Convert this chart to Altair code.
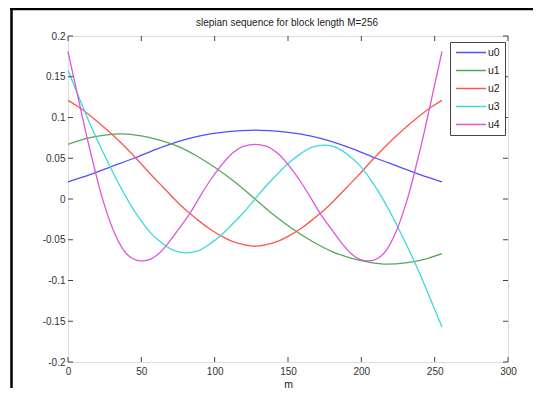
import altair as alt
import pandas as pd

# ---- data ----
title_text = "slepian sequence for block length M=256"

m_u0 = [0, 15, 30, 45, 60, 75, 90, 105, 118, 127.5, 137, 150, 165, 180, 195, 210, 225, 240, 255]
u0 = [0.021, 0.030, 0.040, 0.050, 0.061, 0.0705, 0.0775, 0.0818, 0.0838, 0.0845, 0.0838, 0.0818,
      0.0775, 0.0705, 0.061, 0.050, 0.040, 0.030, 0.021]

m_u1 = [0, 12, 25, 37, 50, 62, 75, 88, 100, 114, 127.5, 141, 155, 167, 180, 193, 205, 218, 230, 243, 255]
u1 = [0.067, 0.074, 0.0785, 0.080, 0.0775, 0.0725, 0.0645, 0.0525, 0.039, 0.0205, 0.0, -0.0205, -0.039,
      -0.0525, -0.0645, -0.0725, -0.0775, -0.080, -0.0785, -0.074, -0.067]

m_u2 = [0, 8, 16, 24, 32, 40, 48, 56, 64, 72, 80, 88, 96, 104, 112, 120, 127.5,
        135, 143, 151, 159, 167, 175, 183, 191, 199, 207, 215, 223, 231, 239, 247, 255]
u2 = [0.121, 0.112, 0.101, 0.089, 0.076, 0.062, 0.047, 0.031, 0.016, 0.001, -0.013, -0.025, -0.036,
      -0.045, -0.052, -0.056, -0.058,
      -0.056, -0.052, -0.045, -0.036, -0.025, -0.013, 0.001, 0.016, 0.031, 0.047, 0.062, 0.076,
      0.089, 0.101, 0.112, 0.121]

m_u3 = [0, 6, 12, 18, 24, 30, 36, 42, 48, 56, 64, 72, 80, 88, 96, 104, 112, 120, 127.5,
        135, 143, 151, 159, 167, 175, 183, 191, 199, 207, 213, 219, 225, 231, 237, 243, 249, 255]
u3 = [0.158, 0.131, 0.105, 0.080, 0.057, 0.035, 0.014, -0.005, -0.022, -0.041, -0.054, -0.063,
      -0.066, -0.064, -0.056, -0.045, -0.031, -0.016, 0.0,
      0.016, 0.031, 0.045, 0.056, 0.064, 0.066, 0.063, 0.054, 0.041, 0.022, 0.005, -0.014, -0.035,
      -0.057, -0.080, -0.105, -0.131, -0.157]

m_u4 = [0, 6, 12, 18, 22, 26, 32, 38, 44, 50, 56, 62, 68, 75, 83, 90, 97, 104, 112, 120, 127.5,
        135, 143, 151, 158, 165, 172, 180, 187, 193, 199, 205, 211, 217, 223, 229, 233, 237, 243, 249, 255]
u4 = [0.181, 0.132, 0.083, 0.038, 0.010, -0.014, -0.043, -0.063, -0.073, -0.076, -0.074, -0.067,
      -0.055, -0.038, -0.018, 0.003, 0.023, 0.040, 0.056, 0.065, 0.067,
      0.065, 0.056, 0.040, 0.023, 0.003, -0.018, -0.038, -0.055, -0.067, -0.074, -0.076, -0.073,
      -0.063, -0.043, -0.014, 0.010, 0.038, 0.083, 0.132, 0.181]

series_names = ["u0", "u1", "u2", "u3", "u4"]
series_colors = ["#5050ff", "#55a855", "#ff5555", "#40d8d8", "#dd55dd"]
x_ticks = [0, 50, 100, 150, 200, 250, 300]
y_ticks = [-0.2, -0.15, -0.1, -0.05, 0, 0.05, 0.1, 0.15, 0.2]

rows = []
for name, ms, vs in zip(series_names, [m_u0, m_u1, m_u2, m_u3, m_u4], [u0, u1, u2, u3, u4]):
    for a, b in zip(ms, vs):
        rows.append({"m": a, "v": b, "s": name})
df = pd.DataFrame(rows)

W, H = 440, 326
FONT = "Liberation Sans"
xs = alt.Scale(domain=[0, 300], nice=False)
ys = alt.Scale(domain=[-0.2, 0.2], nice=False)
common = dict(grid=False, ticks=False, tickSize=0, domain=False, labelFlush=False,
              labelFont=FONT, labelFontSize=10, labelColor="#333", labelOverlap=False)
x_axis = alt.Axis(values=x_ticks, title="m", labelPadding=4, titlePadding=3,
                  titleFontSize=10.5, titleFontWeight="normal", titleFont=FONT,
                  titleColor="#222", **common)
y_axis = alt.Axis(values=y_ticks, title=None, labelPadding=3,
                  labelExpr="'' + datum.value", **common)

lines = alt.Chart(df).mark_line(interpolate="monotone", strokeWidth=1.3).encode(
    x=alt.X("m:Q", scale=xs, axis=x_axis),
    y=alt.Y("v:Q", scale=ys, axis=y_axis),
    color=alt.Color("s:N", scale=alt.Scale(domain=series_names, range=series_colors),
                    legend=alt.Legend(title=None, orient="none", legendX=382, legendY=6,
                                      symbolType="stroke", symbolSize=900, symbolStrokeWidth=1.5,
                                      labelFontSize=10.5, labelFont=FONT, labelColor="#222",
                                      clipHeight=11, rowPadding=7, padding=5, strokeColor="#444",
                                      fillColor="white", labelOffset=1, symbolOffset=0)),
    order=alt.Order("m:Q"),
)

xt = pd.DataFrame({"m": x_ticks})
yt = pd.DataFrame({"v": y_ticks})
tick_color = "#444"
xb = alt.Chart(xt).mark_rule(color=tick_color).encode(
    x=alt.X("m:Q", scale=xs, axis=x_axis), y=alt.value(H), y2=alt.value(H - 5))
xtop = alt.Chart(xt).mark_rule(color=tick_color).encode(
    x=alt.X("m:Q", scale=xs, axis=x_axis), y=alt.value(0), y2=alt.value(5))
yl = alt.Chart(yt).mark_rule(color=tick_color).encode(
    y=alt.Y("v:Q", scale=ys, axis=y_axis), x=alt.value(0), x2=alt.value(5))
yr = alt.Chart(yt).mark_rule(color=tick_color).encode(
    y=alt.Y("v:Q", scale=ys, axis=y_axis), x=alt.value(W), x2=alt.value(W - 5))

one = pd.DataFrame({"a": [0]})
frame_left = alt.Chart(one).mark_rule(color="black", strokeWidth=2.5).encode(
    x=alt.value(-56.5), y=alt.value(-30), y2=alt.value(H + 30))
frame_top = alt.Chart(one).mark_rule(color="black", strokeWidth=2.5).encode(
    y=alt.value(-27), x=alt.value(-58), x2=alt.value(W + 30))

title_df = pd.DataFrame({"label": [title_text]})
title_mark = alt.Chart(title_df).mark_text(
    font=FONT, fontSize=10, color="#222", align="center", baseline="alphabetic"
).encode(text="label:N", x=alt.value(W / 2 - 1), y=alt.value(-10))

chart = alt.layer(lines, xb, xtop, yl, yr, frame_left, frame_top, title_mark).properties(
    width=W, height=H,
    autosize=alt.AutoSizeParams(type="none"),
    padding={"left": 60, "top": 28, "right": 25, "bottom": 26},
).configure_view(stroke="#444", strokeWidth=1).configure(background="white")

chart.save("out.html", embed_options={"renderer": "svg", "actions": False})
